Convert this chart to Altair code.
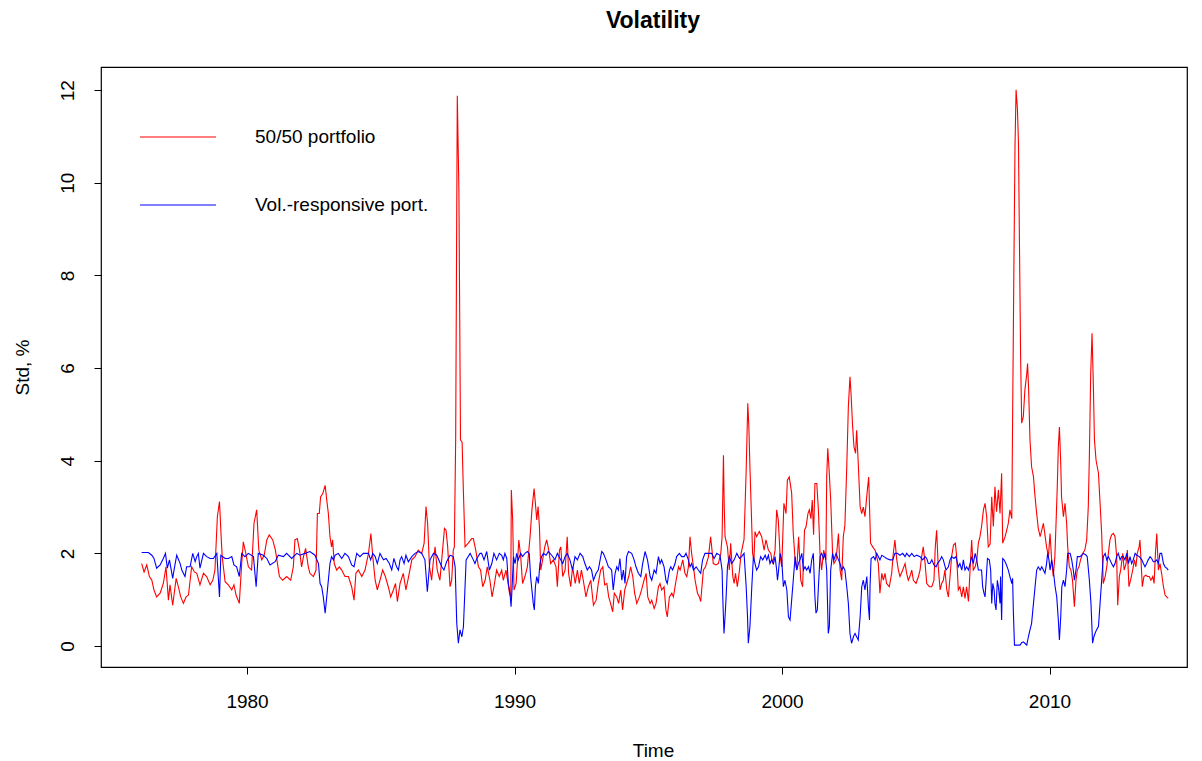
import altair as alt
import pandas as pd

# ---- data ----
red_year = [
    1976.06, 1976.15, 1976.25, 1976.35, 1976.44, 1976.52, 1976.62, 1976.75, 1976.87, 1976.97,
    1977.06, 1977.12, 1977.22, 1977.35, 1977.43, 1977.52, 1977.62, 1977.72, 1977.81, 1977.93,
    1978.03, 1978.12, 1978.24, 1978.37, 1978.49, 1978.62, 1978.72, 1978.80, 1978.89, 1978.97,
    1979.02, 1979.07, 1979.18, 1979.30, 1979.43, 1979.51, 1979.59, 1979.71, 1979.80, 1979.86,
    1979.94, 1980.05, 1980.17, 1980.26, 1980.36, 1980.44, 1980.55, 1980.64, 1980.74, 1980.83,
    1980.96, 1981.06, 1981.21, 1981.33, 1981.48, 1981.63, 1981.73, 1981.79, 1981.88, 1981.96,
    1982.04, 1982.11, 1982.19, 1982.29, 1982.35, 1982.48, 1982.58, 1982.63, 1982.70, 1982.75,
    1982.83, 1982.92, 1982.98, 1983.04, 1983.10, 1983.16, 1983.20, 1983.26, 1983.35, 1983.45,
    1983.54, 1983.66, 1983.79, 1983.91, 1984.00, 1984.07, 1984.16, 1984.29, 1984.41, 1984.54,
    1984.63, 1984.70, 1984.79, 1984.87, 1984.97, 1985.07, 1985.17, 1985.28, 1985.37, 1985.47,
    1985.55, 1985.62, 1985.72, 1985.84, 1985.94, 1986.04, 1986.16, 1986.28, 1986.40, 1986.53,
    1986.62, 1986.69, 1986.75, 1986.82, 1986.90, 1986.97, 1987.03, 1987.11, 1987.21, 1987.31,
    1987.38, 1987.44, 1987.50, 1987.59, 1987.65, 1987.71, 1987.75, 1987.80, 1987.86, 1987.92,
    1987.98, 1988.04, 1988.09, 1988.15, 1988.27, 1988.40, 1988.46, 1988.55, 1988.65, 1988.73,
    1988.81, 1988.90, 1988.98, 1989.08, 1989.16, 1989.23, 1989.33, 1989.43, 1989.52, 1989.58,
    1989.68, 1989.76, 1989.81, 1989.86, 1989.88, 1989.93, 1989.98, 1990.06, 1990.16, 1990.23,
    1990.30, 1990.39, 1990.48, 1990.58, 1990.65, 1990.73, 1990.78, 1990.83, 1990.88, 1990.93,
    1990.98, 1991.05, 1991.13, 1991.20, 1991.28, 1991.35, 1991.45, 1991.55, 1991.60, 1991.68,
    1991.73, 1991.80, 1991.89, 1991.97, 1992.02, 1992.10, 1992.17, 1992.27, 1992.35, 1992.42,
    1992.50, 1992.57, 1992.67, 1992.76, 1992.85, 1992.95, 1993.05, 1993.13, 1993.22, 1993.30,
    1993.37, 1993.45, 1993.52, 1993.59, 1993.67, 1993.73, 1993.82, 1993.89, 1993.97, 1994.04,
    1994.12, 1994.19, 1994.27, 1994.34, 1994.42, 1994.49, 1994.57, 1994.67, 1994.75, 1994.84,
    1994.92, 1994.98, 1995.07, 1995.13, 1995.22, 1995.29, 1995.38, 1995.44, 1995.50, 1995.59,
    1995.66, 1995.71, 1995.79, 1995.88, 1995.94, 1996.04, 1996.13, 1996.19, 1996.29, 1996.37,
    1996.44, 1996.50, 1996.56, 1996.62, 1996.69, 1996.75, 1996.84, 1996.91, 1996.96, 1997.06,
    1997.14, 1997.25, 1997.33, 1997.37, 1997.43, 1997.53, 1997.62, 1997.71, 1997.76, 1997.81,
    1997.84, 1997.87, 1997.96, 1998.03, 1998.08, 1998.16, 1998.21, 1998.26, 1998.33, 1998.41,
    1998.47, 1998.58, 1998.66, 1998.72, 1998.76, 1998.80, 1998.85, 1998.90, 1998.95, 1998.99,
    1999.05, 1999.15, 1999.24, 1999.33, 1999.40, 1999.49, 1999.58, 1999.65, 1999.74, 1999.80,
    1999.86, 1999.93, 1999.99, 2000.07, 2000.15, 2000.20, 2000.27, 2000.36, 2000.42, 2000.49,
    2000.55, 2000.62, 2000.70, 2000.77, 2000.84, 2000.90, 2000.97, 2001.02, 2001.08, 2001.13,
    2001.18, 2001.23, 2001.30, 2001.36, 2001.42, 2001.48, 2001.56, 2001.64, 2001.67, 2001.71,
    2001.76, 2001.82, 2001.89, 2001.94, 2002.02, 2002.11, 2002.17, 2002.23, 2002.29, 2002.35,
    2002.42, 2002.48, 2002.54, 2002.58, 2002.64, 2002.69, 2002.75, 2002.79, 2002.85, 2002.92,
    2002.98, 2003.04, 2003.10, 2003.19, 2003.24, 2003.31, 2003.39, 2003.48, 2003.54, 2003.60,
    2003.66, 2003.73, 2003.79, 2003.85, 2003.91, 2004.01, 2004.10, 2004.16, 2004.22, 2004.29,
    2004.35, 2004.41, 2004.51, 2004.60, 2004.66, 2004.72, 2004.78, 2004.85, 2004.91, 2005.01,
    2005.10, 2005.16, 2005.22, 2005.28, 2005.35, 2005.41, 2005.51, 2005.60, 2005.68, 2005.73,
    2005.78, 2005.84, 2005.91, 2005.97, 2006.03, 2006.09, 2006.16, 2006.22, 2006.28, 2006.34,
    2006.41, 2006.48, 2006.53, 2006.59, 2006.65, 2006.72, 2006.78, 2006.84, 2006.90, 2006.97,
    2007.03, 2007.09, 2007.15, 2007.22, 2007.28, 2007.34, 2007.40, 2007.46, 2007.53, 2007.59,
    2007.65, 2007.71, 2007.78, 2007.84, 2007.90, 2007.96, 2008.02, 2008.09, 2008.15, 2008.21,
    2008.25, 2008.34, 2008.40, 2008.46, 2008.52, 2008.59, 2008.62, 2008.67, 2008.71, 2008.75,
    2008.80, 2008.84, 2008.87, 2008.92, 2008.96, 2009.02, 2009.08, 2009.15, 2009.18, 2009.22,
    2009.27, 2009.33, 2009.40, 2009.46, 2009.52, 2009.58, 2009.65, 2009.71, 2009.77, 2009.83,
    2009.89, 2009.96, 2010.02, 2010.08, 2010.14, 2010.20, 2010.24, 2010.29, 2010.33, 2010.37,
    2010.42, 2010.45, 2010.52, 2010.58, 2010.64, 2010.68, 2010.74, 2010.80, 2010.86, 2010.93,
    2010.99, 2011.04, 2011.10, 2011.16, 2011.24, 2011.32, 2011.39, 2011.45, 2011.49, 2011.54,
    2011.59, 2011.64, 2011.68, 2011.74, 2011.83, 2011.89, 2011.95, 2012.01, 2012.08, 2012.14,
    2012.20, 2012.26, 2012.32, 2012.39, 2012.45, 2012.51, 2012.55, 2012.61, 2012.66, 2012.74,
    2012.79, 2012.86, 2012.91, 2012.97, 2013.03, 2013.11, 2013.17, 2013.23, 2013.28, 2013.35,
    2013.38, 2013.42, 2013.47, 2013.53, 2013.60, 2013.66, 2013.73, 2013.79, 2013.86, 2013.91,
    2013.96, 2014.01, 2014.07, 2014.13, 2014.19, 2014.26, 2014.32, 2014.38, 2014.44,
]
red_value = [
    1.78, 1.60, 1.75, 1.50, 1.42, 1.21, 1.06, 1.14, 1.35, 1.71,
    0.99, 1.32, 0.88, 1.46, 1.28, 1.06, 0.92, 1.06, 1.10, 1.71,
    1.60, 1.57, 1.32, 1.57, 1.50, 1.32, 1.42, 1.64, 2.79, 3.12,
    2.50, 1.93, 1.39, 1.32, 1.21, 1.32, 1.10, 0.92, 1.78, 2.25,
    2.04, 1.71, 1.64, 2.65, 2.94, 2.07, 1.86, 1.96, 2.29, 2.40,
    2.29, 2.07, 1.50, 1.42, 1.50, 1.42, 1.71, 2.29, 2.32, 2.07,
    1.71, 1.93, 2.11, 1.71, 1.57, 1.50, 1.64, 2.86, 2.86, 3.22,
    3.29, 3.47, 3.15, 2.86, 2.36, 2.14, 2.29, 1.78, 1.64, 1.71,
    1.64, 1.50, 1.50, 1.28, 0.99, 1.57, 1.64, 1.50, 1.64, 2.00,
    2.43, 1.93, 1.42, 1.21, 1.42, 1.64, 1.50, 1.28, 1.06, 1.21,
    1.35, 0.96, 1.35, 1.57, 1.21, 1.50, 1.86, 1.93, 2.07, 2.00,
    2.22, 3.01, 2.65, 1.71, 1.42, 1.86, 2.14, 1.64, 1.42, 2.07,
    2.54, 2.50, 2.14, 1.28, 1.42, 2.07, 2.14, 4.50, 11.88, 9.85,
    4.45, 4.40, 3.30, 2.14, 2.22, 2.32, 2.32, 2.07, 1.71, 1.64,
    1.28, 1.42, 1.71, 1.42, 1.06, 1.28, 1.64, 1.50, 1.64, 1.42,
    1.64, 1.35, 1.14, 1.06, 3.37, 2.72, 1.21, 1.35, 2.29, 1.93,
    1.35, 1.50, 1.71, 2.36, 2.94, 3.40, 3.08, 2.72, 3.01, 2.58,
    1.64, 1.86, 2.14, 2.29, 2.07, 1.78, 1.86, 1.71, 1.28, 2.07,
    2.14, 1.50, 1.64, 2.36, 1.57, 1.28, 1.71, 1.35, 1.64, 1.35,
    1.64, 1.42, 1.06, 1.28, 1.42, 0.88, 0.99, 1.35, 1.64, 1.71,
    1.32, 1.35, 1.06, 0.92, 0.74, 1.14, 1.06, 0.92, 1.21, 0.78,
    1.21, 1.35, 1.50, 1.71, 1.50, 1.14, 0.92, 1.06, 1.21, 1.42,
    1.57, 1.06, 0.92, 0.99, 0.81, 0.92, 1.28, 1.35, 1.21, 1.28,
    0.78, 0.63, 1.06, 1.14, 1.06, 1.42, 1.71, 1.64, 1.86, 1.57,
    1.50, 1.71, 2.36, 2.00, 1.71, 1.42, 1.14, 1.06, 0.96, 1.64,
    1.71, 1.93, 2.36, 2.14, 1.78, 1.75, 1.78, 2.00, 2.36, 4.12,
    3.00, 2.36, 2.14, 1.64, 2.22, 1.50, 1.35, 1.57, 1.28, 1.64,
    2.00, 2.30, 3.80, 5.24, 4.73, 3.87, 2.94, 2.00, 1.86, 2.47,
    2.36, 2.47, 2.36, 2.07, 2.29, 2.07, 2.00, 1.78, 2.07, 2.94,
    2.72, 1.93, 1.71, 3.08, 2.86, 3.58, 3.65, 3.30, 2.43, 1.86,
    1.64, 2.36, 1.42, 1.28, 2.50, 2.58, 2.86, 2.94, 2.75, 3.15,
    2.40, 3.51, 3.51, 2.94, 2.00, 1.64, 2.07, 1.86, 3.65, 4.27,
    3.80, 3.15, 2.00, 1.78, 1.86, 2.43, 1.64, 1.42, 2.36, 2.60,
    3.87, 5.17, 5.81, 5.45, 4.73, 4.30, 4.16, 4.66, 3.94, 3.01,
    2.86, 3.00, 2.79, 3.37, 3.65, 2.22, 2.14, 2.07, 1.93, 1.78,
    1.14, 1.57, 1.42, 1.57, 1.35, 1.28, 1.57, 2.00, 2.29, 1.86,
    1.64, 1.50, 1.64, 1.78, 1.57, 1.42, 1.50, 1.64, 1.42, 1.35,
    1.50, 1.64, 1.93, 2.14, 1.78, 1.35, 1.28, 1.28, 1.42, 2.14,
    2.50, 1.71, 1.21, 1.35, 1.42, 1.64, 1.21, 1.06, 1.50, 1.93,
    2.18, 2.22, 1.93, 1.21, 1.28, 1.06, 1.28, 1.03, 1.28, 0.96,
    1.64, 2.29, 1.64, 1.71, 1.86, 2.22, 2.36, 2.58, 2.94, 3.08,
    2.80, 2.14, 2.20, 3.22, 2.58, 3.44, 2.90, 3.37, 2.86, 3.73,
    2.22, 2.36, 2.50, 2.65, 2.94, 2.75, 4.88, 8.29, 10.78, 12.01,
    11.60, 10.85, 9.05, 6.24, 4.81, 4.95, 5.53, 5.88, 6.10, 5.53,
    4.45, 3.87, 3.65, 3.22, 2.86, 2.54, 2.36, 2.50, 2.65, 2.40,
    2.14, 1.93, 2.43, 1.86, 1.50, 1.93, 2.58, 3.44, 4.30, 4.73,
    3.94, 3.22, 2.79, 3.08, 2.65, 2.14, 1.71, 1.64, 1.42, 0.85,
    1.42, 1.64, 1.71, 1.86, 2.00, 2.07, 2.29, 3.01, 4.09, 5.88,
    6.75, 5.60, 4.45, 4.01, 3.73, 3.08, 2.43, 1.35, 1.50, 1.71,
    2.00, 2.29, 2.40, 2.43, 2.36, 1.93, 0.88, 1.50, 1.64, 2.00,
    1.64, 1.78, 2.07, 1.28, 1.42, 1.64, 1.86, 1.71, 2.00, 2.14,
    2.29, 1.86, 1.28, 1.50, 1.53, 1.50, 1.50, 1.42, 1.50, 1.35,
    2.00, 2.43, 1.64, 1.78, 1.57, 1.28, 1.10, 1.06, 1.03,
]

blue_year = [
    1976.06, 1976.31, 1976.44, 1976.52, 1976.62, 1976.75, 1976.87, 1976.95, 1977.02, 1977.10,
    1977.22, 1977.27, 1977.37, 1977.50, 1977.56, 1977.68, 1977.74, 1977.87, 1977.97, 1978.06,
    1978.12, 1978.18, 1978.24, 1978.37, 1978.49, 1978.62, 1978.74, 1978.87, 1978.97, 1979.02,
    1979.18, 1979.30, 1979.43, 1979.51, 1979.61, 1979.71, 1979.80, 1979.92, 1980.05, 1980.24,
    1980.34, 1980.42, 1980.61, 1980.74, 1980.86, 1981.05, 1981.17, 1981.36, 1981.48, 1981.67,
    1981.86, 1981.98, 1982.17, 1982.35, 1982.54, 1982.67, 1982.73, 1982.79, 1982.85, 1982.92,
    1982.98, 1983.10, 1983.16, 1983.23, 1983.29, 1983.41, 1983.54, 1983.66, 1983.79, 1983.91,
    1984.00, 1984.10, 1984.22, 1984.35, 1984.54, 1984.62, 1984.70, 1984.79, 1984.87, 1984.97,
    1985.10, 1985.20, 1985.32, 1985.41, 1985.49, 1985.59, 1985.66, 1985.72, 1985.78, 1985.87,
    1985.94, 1986.03, 1986.16, 1986.28, 1986.40, 1986.53, 1986.65, 1986.74, 1986.84, 1986.97,
    1987.09, 1987.28, 1987.36, 1987.46, 1987.59, 1987.71, 1987.78, 1987.84, 1987.90, 1987.96,
    1988.03, 1988.09, 1988.19, 1988.34, 1988.46, 1988.52, 1988.59, 1988.71, 1988.77, 1988.86,
    1988.96, 1989.06, 1989.15, 1989.23, 1989.33, 1989.43, 1989.52, 1989.58, 1989.64, 1989.71,
    1989.77, 1989.83, 1989.87, 1989.91, 1989.96, 1990.02, 1990.08, 1990.14, 1990.23, 1990.30,
    1990.39, 1990.48, 1990.55, 1990.60, 1990.65, 1990.70, 1990.74, 1990.78, 1990.83, 1990.89,
    1990.95, 1991.01, 1991.08, 1991.18, 1991.26, 1991.39, 1991.51, 1991.60, 1991.70, 1991.80,
    1991.89, 1991.97, 1992.07, 1992.17, 1992.26, 1992.35, 1992.45, 1992.55, 1992.63, 1992.72,
    1992.80, 1992.88, 1992.95, 1993.05, 1993.13, 1993.20, 1993.26, 1993.32, 1993.42, 1993.51,
    1993.57, 1993.63, 1993.69, 1993.76, 1993.82, 1993.88, 1993.94, 1994.01, 1994.07, 1994.13,
    1994.19, 1994.26, 1994.38, 1994.47, 1994.54, 1994.63, 1994.72, 1994.79, 1994.88, 1994.97,
    1995.07, 1995.13, 1995.22, 1995.29, 1995.38, 1995.44, 1995.50, 1995.59, 1995.66, 1995.71,
    1995.79, 1995.84, 1995.91, 1996.00, 1996.06, 1996.16, 1996.25, 1996.34, 1996.41, 1996.50,
    1996.56, 1996.62, 1996.69, 1996.79, 1996.87, 1996.96, 1997.03, 1997.12, 1997.25, 1997.37,
    1997.46, 1997.56, 1997.68, 1997.76, 1997.78, 1997.83, 1997.87, 1997.91, 1997.96, 1998.03,
    1998.12, 1998.21, 1998.31, 1998.41, 1998.49, 1998.58, 1998.66, 1998.71, 1998.74, 1998.80,
    1998.87, 1998.93, 1998.99, 1999.05, 1999.12, 1999.20, 1999.28, 1999.37, 1999.43, 1999.49,
    1999.55, 1999.61, 1999.68, 1999.74, 1999.80, 1999.83, 1999.86, 1999.93, 1999.99, 2000.05,
    2000.11, 2000.18, 2000.24, 2000.30, 2000.36, 2000.42, 2000.49, 2000.55, 2000.61, 2000.67,
    2000.74, 2000.80, 2000.86, 2000.92, 2000.99, 2001.05, 2001.11, 2001.17, 2001.23, 2001.27,
    2001.32, 2001.36, 2001.42, 2001.48, 2001.55, 2001.61, 2001.67, 2001.73, 2001.77, 2001.82,
    2001.89, 2001.94, 2002.02, 2002.11, 2002.17, 2002.23, 2002.29, 2002.35, 2002.42, 2002.48,
    2002.54, 2002.60, 2002.67, 2002.73, 2002.79, 2002.85, 2002.92, 2002.98, 2003.04, 2003.10,
    2003.17, 2003.23, 2003.27, 2003.29, 2003.33, 2003.42, 2003.48, 2003.54, 2003.60, 2003.66,
    2003.73, 2003.81, 2003.91, 2004.04, 2004.14, 2004.22, 2004.31, 2004.41, 2004.51, 2004.60,
    2004.66, 2004.76, 2004.85, 2004.94, 2005.03, 2005.16, 2005.26, 2005.35, 2005.41, 2005.47,
    2005.53, 2005.60, 2005.68, 2005.76, 2005.81, 2005.91, 2005.97, 2006.03, 2006.13, 2006.22,
    2006.28, 2006.34, 2006.43, 2006.50, 2006.59, 2006.65, 2006.72, 2006.78, 2006.84, 2006.90,
    2006.97, 2007.03, 2007.09, 2007.15, 2007.22, 2007.28, 2007.34, 2007.46, 2007.50, 2007.55,
    2007.59, 2007.63, 2007.68, 2007.75, 2007.80, 2007.84, 2007.88, 2007.93, 2007.96, 2008.00,
    2008.05, 2008.09, 2008.15, 2008.17, 2008.21, 2008.25, 2008.30, 2008.37, 2008.46, 2008.52,
    2008.59, 2008.62, 2008.65, 2008.69, 2008.77, 2008.90, 2008.96, 2009.02, 2009.08, 2009.15,
    2009.21, 2009.27, 2009.33, 2009.40, 2009.46, 2009.52, 2009.58, 2009.65, 2009.71, 2009.77,
    2009.83, 2009.89, 2009.93, 2009.98, 2010.02, 2010.08, 2010.14, 2010.21, 2010.27, 2010.33,
    2010.37, 2010.42, 2010.46, 2010.52, 2010.58, 2010.64, 2010.68, 2010.77, 2010.83, 2010.89,
    2010.93, 2010.99, 2011.04, 2011.14, 2011.27, 2011.37, 2011.41, 2011.49, 2011.55, 2011.59,
    2011.61, 2011.66, 2011.70, 2011.76, 2011.83, 2011.89, 2011.95, 2012.01, 2012.08, 2012.14,
    2012.20, 2012.26, 2012.32, 2012.39, 2012.45, 2012.51, 2012.57, 2012.64, 2012.70, 2012.76,
    2012.82, 2012.89, 2012.95, 2013.01, 2013.07, 2013.13, 2013.20, 2013.26, 2013.36, 2013.45,
    2013.51, 2013.57, 2013.63, 2013.69, 2013.76, 2013.82, 2013.88, 2013.94, 2014.01, 2014.07,
    2014.13, 2014.19, 2014.26, 2014.32, 2014.38, 2014.44,
]
blue_value = [
    2.02, 2.02, 1.96, 1.89, 1.68, 1.75, 1.89, 2.00, 1.68, 1.86,
    1.46, 1.64, 1.96, 1.78, 1.64, 1.50, 1.71, 1.71, 2.00, 1.82,
    1.93, 2.00, 1.68, 2.00, 1.93, 1.89, 1.89, 2.00, 1.06, 1.96,
    1.89, 1.89, 1.93, 1.75, 1.71, 1.50, 2.00, 1.93, 2.00, 1.93,
    1.28, 2.00, 1.96, 1.89, 1.75, 1.82, 1.96, 1.93, 2.00, 1.89,
    2.00, 1.96, 2.00, 2.04, 1.96, 1.78, 1.35, 1.28, 1.06, 0.71,
    1.06, 1.78, 1.93, 1.86, 1.96, 2.00, 1.89, 2.00, 1.93, 1.75,
    1.71, 2.00, 1.93, 2.00, 2.00, 1.86, 2.00, 1.93, 1.78, 2.00,
    1.86, 1.89, 1.78, 1.64, 1.89, 1.71, 1.64, 1.86, 1.93, 1.78,
    1.96, 1.82, 1.93, 2.00, 2.04, 2.00, 1.86, 1.17, 1.86, 2.00,
    1.96, 1.71, 1.64, 1.82, 1.96, 1.93, 1.71, 0.49, 0.06, 0.35,
    0.20, 0.42, 1.86, 2.00, 1.86, 1.78, 1.89, 2.00, 2.00, 1.86,
    2.04, 1.64, 1.78, 2.00, 1.86, 2.00, 1.96, 1.86, 2.00, 1.89,
    1.35, 1.14, 0.85, 1.28, 1.93, 1.78, 2.00, 1.86, 2.00, 1.93,
    2.00, 2.04, 2.00, 1.50, 1.21, 0.92, 0.78, 1.28, 1.50, 1.35,
    1.78, 1.93, 2.00, 1.96, 2.04, 1.96, 1.86, 2.00, 1.89, 1.78,
    1.93, 2.00, 1.86, 1.64, 1.93, 1.86, 2.00, 1.93, 1.78, 1.64,
    1.71, 1.64, 1.42, 1.57, 1.64, 1.86, 2.04, 2.00, 1.86, 1.71,
    1.68, 1.64, 1.21, 1.57, 1.71, 1.64, 1.89, 1.42, 1.64, 1.35,
    1.93, 2.04, 2.00, 1.86, 1.71, 1.57, 1.50, 1.78, 2.04, 1.86,
    1.50, 1.42, 1.64, 1.57, 1.93, 1.78, 1.86, 1.71, 1.42, 1.35,
    1.64, 1.71, 1.64, 1.78, 1.93, 2.00, 1.93, 1.93, 2.00, 1.86,
    1.71, 1.78, 1.64, 1.71, 1.64, 1.57, 1.86, 2.00, 2.00, 2.00,
    1.89, 2.00, 1.96, 1.64, 1.14, 0.27, 0.63, 1.06, 1.71, 1.93,
    1.78, 1.86, 2.00, 1.89, 1.93, 2.00, 1.28, 0.63, 0.06, 0.42,
    1.28, 1.93, 1.78, 1.64, 1.71, 1.93, 1.86, 1.96, 1.86, 1.96,
    1.78, 1.86, 1.78, 1.93, 1.64, 1.42, 1.57, 2.00, 1.86, 1.28,
    1.42, 1.21, 0.63, 0.56, 0.99, 1.42, 1.93, 1.64, 1.78, 1.86,
    2.00, 1.64, 1.71, 1.64, 1.71, 1.57, 1.86, 2.00, 1.06, 0.71,
    0.78, 1.28, 1.93, 2.00, 1.89, 2.00, 1.64, 0.27, 0.42, 1.64,
    2.00, 1.86, 2.00, 1.86, 1.78, 1.64, 1.71, 1.64, 1.28, 0.92,
    0.27, 0.06, 0.20, 0.27, 0.20, 0.13, 0.63, 1.28, 1.42, 1.21,
    1.50, 0.85, 0.56, 1.28, 1.89, 1.93, 1.86, 2.00, 1.93, 1.86,
    1.96, 1.93, 1.89, 1.86, 1.86, 2.00, 2.00, 1.96, 2.00, 1.93,
    2.00, 1.93, 2.00, 1.93, 1.96, 1.93, 1.86, 1.93, 1.89, 1.78,
    1.78, 1.86, 1.75, 1.71, 1.78, 1.86, 1.93, 1.86, 1.64, 1.71,
    1.86, 1.93, 1.89, 1.93, 1.71, 1.78, 1.64, 1.86, 1.64, 1.71,
    1.64, 1.78, 1.93, 1.78, 2.00, 1.86, 1.64, 1.64, 1.28, 1.14,
    1.06, 1.42, 1.89, 1.86, 1.64, 0.92, 1.35, 1.21, 0.92, 0.78,
    1.42, 1.28, 0.92, 1.50, 0.56, 1.89, 1.86, 1.78, 1.64, 1.50,
    1.35, 1.46, 0.71, 0.02, 0.02, 0.02, 0.07, 0.09, 0.06, 0.02,
    0.20, 0.35, 0.49, 0.92, 1.28, 1.64, 1.71, 1.64, 1.71, 1.64,
    1.57, 1.78, 2.00, 1.86, 1.64, 1.86, 1.64, 1.28, 1.06, 0.56,
    0.13, 0.63, 1.28, 1.42, 1.28, 1.64, 2.00, 2.00, 1.86, 1.64,
    1.42, 1.64, 1.93, 1.93, 2.00, 1.96, 1.93, 1.42, 0.92, 0.35,
    0.06, 0.20, 0.27, 0.35, 0.42, 0.92, 1.42, 1.93, 2.00, 1.86,
    1.93, 1.86, 1.78, 1.71, 1.78, 1.93, 2.00, 1.86, 1.93, 1.93,
    1.86, 2.00, 1.78, 1.93, 1.78, 1.86, 2.00, 1.96, 1.93, 1.86,
    1.78, 1.71, 1.78, 1.86, 1.93, 1.89, 1.82, 1.82, 1.86, 1.78,
    2.00, 2.00, 1.78, 1.71, 1.68, 1.64,
]

series_names = ["50/50 portfolio", "Vol.-responsive port."]
series_colors = ["#FF0000", "#0000FF"]
x_ticks = [1980, 1990, 2000, 2010]
y_ticks = [0, 2, 4, 6, 8, 10, 12]

FONT = "Liberation Sans"

red_df = pd.DataFrame({"Time": red_year, "Std": red_value, "Series": series_names[0]})
blue_df = pd.DataFrame({"Time": blue_year, "Std": blue_value, "Series": series_names[1]})

x_enc = alt.X(
    "Time:Q",
    scale=alt.Scale(domain=[1974.54, 2015.14], nice=False, zero=False),
    axis=alt.Axis(values=x_ticks, format="d", title="Time", grid=False, domain=False,
                  tickSize=7, tickColor="black", labelColor="black", labelFont=FONT,
                  labelFontSize=19, labelPadding=18, labelFlush=False,
                  titleFont=FONT, titleFontSize=19, titleFontWeight="normal",
                  titleColor="black", titlePadding=30, titleX=552),
)
y_enc = alt.Y(
    "Std:Q",
    scale=alt.Scale(domain=[-0.453, 12.5], nice=False, zero=False),
    axis=alt.Axis(values=y_ticks, title="Std, %", grid=False, domain=False,
                  tickSize=7, tickColor="black", labelColor="black", labelFont=FONT,
                  labelFontSize=19, labelAngle=270, labelAlign="center",
                  labelBaseline="bottom", labelPadding=17, labelFlush=False,
                  titleFont=FONT, titleFontSize=19, titleFontWeight="normal",
                  titleColor="black", titlePadding=26),
)

red_line = alt.Chart(red_df).mark_line(color=series_colors[0], strokeWidth=1.1, clip=True).encode(
    x=x_enc, y=y_enc)
blue_line = alt.Chart(blue_df).mark_line(color=series_colors[1], strokeWidth=1.1, clip=True).encode(
    x=x_enc, y=y_enc)

legend_layers = []
for i, (name, col) in enumerate(zip(series_names, series_colors)):
    ypix = 70 + 68 * i
    d = pd.DataFrame({"label": [name]})
    legend_layers.append(
        alt.Chart(d).mark_rule(color=col, strokeWidth=1.1).encode(
            x=alt.value(39), x2=alt.value(115), y=alt.value(ypix)))
    legend_layers.append(
        alt.Chart(d).mark_text(align="left", baseline="middle", font=FONT, fontSize=19,
                               color="black").encode(
            x=alt.value(154), y=alt.value(ypix), text="label:N"))

chart = alt.layer(red_line, blue_line, *legend_layers).properties(
    width=1086,
    height=600,
    title=alt.TitleParams("Volatility", font=FONT, fontSize=23, fontWeight="bold",
                          anchor="middle", frame="group", offset=34, dx=9, color="black"),
    autosize=alt.AutoSizeParams(type="none"),
    padding={"left": 101, "top": 67, "right": 15, "bottom": 94},
).configure_view(stroke="black", strokeWidth=1.2)

chart.save("out.html", embed_options={"renderer": "svg", "actions": False})
